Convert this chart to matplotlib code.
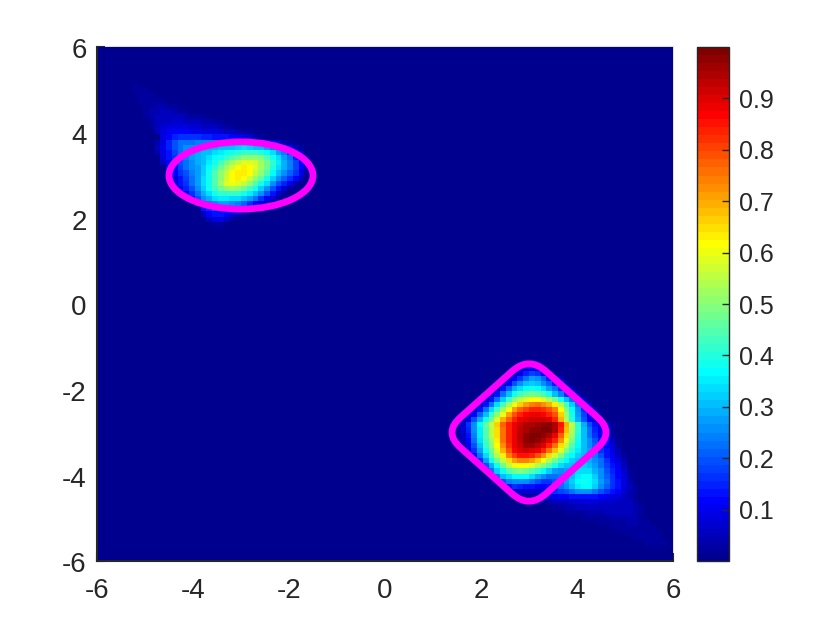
import numpy as np
import matplotlib
matplotlib.use('Agg')
import matplotlib.pyplot as plt
from matplotlib.colors import LinearSegmentedColormap
from matplotlib.patches import Ellipse, FancyBboxPatch
from matplotlib.transforms import Affine2D, ScaledTranslation

plt.rcParams['font.family'] = ['Liberation Sans', 'DejaVu Sans']
plt.rcParams['axes.unicode_minus'] = False

n_cells = 100
x_ticks = [-6, -4, -2, 0, 2, 4, 6]
y_ticks = [-6, -4, -2, 0, 2, 4, 6]
cbar_ticks = [0.1, 0.2, 0.3, 0.4, 0.5, 0.6, 0.7, 0.8, 0.9]

# (row from top, first column, values in hundredths)
upper_blob = [
    (7, 6, [2]),
    (8, 6, [2, 2, 2, 1]),
    (9, 6, [1, 3, 3, 2, 1]),
    (10, 7, [2, 3, 3, 3, 2, 1]),
    (11, 7, [1, 3, 3, 4, 4, 3, 2, 1]),
    (12, 8, [2, 4, 4, 5, 5, 4, 3, 2, 1]),
    (13, 8, [2, 4, 5, 5, 6, 5, 5, 4, 3, 2, 2, 1]),
    (14, 9, [3, 5, 6, 6, 7, 7, 6, 6, 5, 4, 4, 3, 2, 1]),
    (15, 9, [3, 5, 7, 8, 8, 8, 8, 7, 7, 6, 5, 5, 4, 3, 2, 1]),
    (16, 10, [5, 8, 10, 11, 11, 11, 10, 10, 9, 8, 8, 7, 6, 5, 4, 3, 2, 1]),
    (17, 11, [8, 11, 15, 17, 17, 17, 16, 15, 15, 14, 13, 13, 12, 10, 9, 7, 4, 2]),
    (18, 10, [4, 9, 15, 19, 22, 23, 23, 24, 24, 24, 24, 24, 24, 24, 22, 21, 20, 18, 16, 13, 10, 7, 4, 2]),
    (19, 10, [5, 10, 15, 20, 23, 25, 26, 27, 28, 29, 29, 30, 31, 31, 32, 33, 32, 31, 30, 28, 24, 20, 15, 10, 5, 2]),
    (20, 10, [4, 9, 14, 18, 22, 25, 27, 29, 30, 31, 33, 35, 36, 38, 40, 42, 42, 41, 40, 37, 33, 28, 24, 18, 11, 5]),
    (21, 11, [8, 13, 16, 20, 24, 27, 29, 31, 33, 36, 39, 42, 45, 47, 50, 51, 51, 49, 45, 39, 34, 28, 22, 15, 9, 3]),
    (22, 11, [6, 11, 15, 19, 23, 26, 29, 31, 35, 39, 43, 47, 52, 55, 58, 59, 57, 53, 48, 41, 35, 29, 24, 18, 11, 5]),
    (23, 12, [9, 13, 18, 22, 25, 28, 32, 37, 42, 47, 52, 57, 61, 63, 62, 58, 53, 47, 40, 34, 29, 24, 18, 11, 5]),
    (24, 12, [7, 11, 16, 20, 24, 28, 32, 38, 44, 50, 56, 61, 64, 64, 61, 56, 50, 44, 37, 31, 26, 21, 16, 9, 3]),
    (25, 12, [5, 9, 14, 18, 23, 28, 33, 39, 45, 51, 57, 62, 64, 62, 57, 51, 46, 39, 32, 26, 21, 17, 11, 5]),
    (26, 13, [8, 13, 17, 22, 27, 33, 39, 45, 52, 58, 60, 59, 55, 51, 45, 39, 33, 26, 20, 15, 10, 4]),
    (27, 14, [10, 15, 20, 26, 32, 38, 43, 48, 51, 52, 50, 47, 43, 38, 32, 25, 19, 13, 7, 3]),
    (28, 15, [11, 17, 23, 29, 34, 38, 41, 42, 42, 41, 38, 35, 30, 25, 19, 13, 7, 3]),
    (29, 16, [13, 19, 25, 29, 33, 35, 35, 34, 33, 30, 27, 22, 17, 12, 7, 3]),
    (30, 17, [14, 20, 24, 26, 27, 27, 26, 24, 21, 17, 12, 8, 4]),
    (31, 18, [14, 17, 19, 19, 18, 16, 13, 10, 6, 3]),
    (32, 18, [6, 11, 13, 13, 11, 8, 5, 2]),
    (33, 19, [6, 9, 9, 6, 3]),
    (34, 20, [3, 3]),
]

lower_blob = [
    (61, 75, [5, 5]),
    (62, 73, [4, 8, 11, 9, 5]),
    (63, 72, [4, 10, 15, 18, 16, 11, 6]),
    (64, 71, [5, 11, 17, 23, 27, 25, 21, 15, 9, 5]),
    (65, 70, [6, 12, 19, 26, 30, 32, 30, 26, 21, 15, 10, 5]),
    (66, 69, [6, 13, 21, 29, 34, 37, 38, 37, 33, 28, 22, 16, 10, 5]),
    (67, 68, [7, 14, 23, 31, 38, 43, 46, 48, 46, 43, 38, 31, 24, 17, 11, 5]),
    (68, 67, [7, 14, 23, 32, 41, 49, 55, 59, 61, 61, 58, 54, 47, 39, 30, 22, 14, 7]),
    (69, 66, [7, 14, 23, 33, 43, 52, 60, 67, 71, 74, 75, 73, 70, 64, 54, 43, 32, 22, 14, 7]),
    (70, 65, [6, 13, 22, 33, 43, 52, 62, 71, 77, 81, 83, 83, 82, 79, 74, 62, 49, 37, 26, 17, 10, 5]),
    (71, 64, [5, 12, 21, 31, 41, 50, 60, 71, 79, 84, 87, 88, 88, 87, 84, 79, 66, 52, 39, 28, 18, 11, 6, 2]),
    (72, 63, [4, 10, 19, 29, 39, 48, 58, 69, 78, 84, 88, 90, 91, 91, 91, 90, 84, 69, 54, 40, 29, 19, 12, 7, 3, 1]),
    (73, 63, [7, 16, 26, 36, 46, 56, 66, 77, 84, 89, 92, 94, 95, 96, 97, 97, 94, 85, 70, 55, 41, 29, 20, 13, 8, 5, 2]),
    (74, 62, [3, 7, 15, 25, 35, 45, 55, 65, 76, 84, 89, 93, 95, 97, 98, 99, 99, 95, 83, 68, 54, 41, 30, 22, 15, 10, 6, 3]),
    (75, 62, [2, 6, 13, 24, 35, 45, 55, 65, 76, 83, 88, 93, 97, 99, 100, 98, 94, 89, 78, 65, 52, 40, 30, 23, 17, 12, 8, 4, 1]),
    (76, 62, [2, 5, 12, 22, 33, 43, 53, 64, 75, 83, 88, 93, 98, 99, 97, 94, 90, 83, 72, 60, 49, 39, 31, 25, 19, 14, 10, 6, 2]),
    (77, 63, [3, 10, 20, 30, 41, 51, 62, 73, 82, 88, 92, 96, 96, 93, 90, 84, 76, 65, 55, 45, 37, 31, 26, 21, 16, 12, 8, 3]),
    (78, 64, [8, 17, 27, 38, 48, 59, 70, 79, 86, 90, 92, 90, 88, 83, 76, 68, 58, 49, 41, 35, 31, 27, 22, 17, 13, 9, 5]),
    (79, 65, [14, 23, 33, 44, 54, 64, 74, 81, 85, 85, 83, 79, 73, 65, 57, 49, 42, 36, 32, 30, 28, 24, 19, 14, 10, 6, 2]),
    (80, 66, [17, 28, 38, 47, 56, 65, 71, 74, 74, 71, 67, 61, 54, 48, 41, 36, 32, 31, 30, 29, 26, 22, 17, 12, 8, 4]),
    (81, 67, [20, 29, 39, 48, 55, 60, 62, 61, 58, 54, 49, 44, 38, 33, 30, 30, 31, 32, 31, 27, 23, 18, 14, 10, 5]),
    (82, 68, [23, 32, 39, 45, 48, 49, 48, 45, 41, 37, 32, 28, 26, 27, 30, 33, 34, 33, 29, 25, 20, 15, 11, 7, 2]),
    (83, 69, [23, 30, 34, 37, 37, 36, 33, 29, 25, 22, 22, 24, 27, 31, 35, 37, 36, 32, 26, 21, 16, 12, 8, 3]),
    (84, 70, [19, 24, 26, 26, 25, 23, 20, 17, 17, 20, 23, 27, 32, 36, 38, 37, 33, 27, 22, 17, 13, 9, 4]),
    (85, 71, [13, 16, 15, 14, 13, 12, 12, 14, 18, 22, 26, 31, 35, 37, 36, 32, 26, 21, 17, 13, 9, 5, 2]),
    (86, 72, [7, 7, 7, 7, 7, 9, 12, 16, 18, 20, 22, 25, 26, 25, 23, 20, 17, 14, 11, 7, 4, 2]),
    (87, 73, [3, 3, 3, 4, 6, 8, 10, 11, 12, 13, 14, 14, 14, 13, 11, 10, 9, 8, 6, 4, 2]),
    (88, 76, [2, 3, 4, 5, 6, 6, 7, 7, 8, 8, 8, 7, 7, 7, 6, 6, 5, 3, 1]),
    (89, 79, [2, 3, 4, 4, 5, 5, 5, 6, 6, 6, 6, 6, 5, 5, 4, 2]),
    (90, 81, [2, 3, 3, 3, 4, 4, 4, 5, 5, 5, 5, 5, 4, 2]),
    (91, 84, [2, 2, 3, 3, 3, 4, 4, 4, 4, 4, 3, 1]),
    (92, 86, [1, 2, 2, 3, 3, 3, 4, 4, 3, 2]),
    (93, 88, [1, 2, 2, 3, 3, 3, 3, 3, 2, 1]),
    (94, 90, [1, 2, 2, 3, 3, 3, 3, 2]),
    (95, 92, [1, 2, 2, 3, 3, 3, 1]),
    (96, 95, [2, 2, 2, 2]),
]

# the two magenta curves
ellipse_center = (-3, 3)
ellipse_width = 3.0
ellipse_height = 1.57
diamond_center = (3, -3)
diamond_half_side = 1.26
diamond_corner = 0.5

z = np.zeros((n_cells, n_cells))
for row, start, vals in upper_blob + lower_blob:
    z[row, start:start + len(vals)] = np.array(vals) / 100

# MATLAB jet, 64 levels
jet_stops = [(0, (0, 0, 0.5625)), (7 / 63, (0, 0, 1)), (23 / 63, (0, 1, 1)),
             (39 / 63, (1, 1, 0)), (55 / 63, (1, 0, 0)), (1, (0.5, 0, 0))]
cmap = LinearSegmentedColormap.from_list('matlab_jet', jet_stops, N=64)

fig = plt.figure(figsize=(8.4, 6.3), dpi=100)
ax = fig.add_axes([97 / 840, 1 - 561 / 630, 576 / 840, 514 / 630])
cax = fig.add_axes([697 / 840, 1 - 561 / 630, 32 / 840, 514 / 630])

edges_x = np.linspace(-6, 6, n_cells + 1)
edges_y = np.linspace(6, -6, n_cells + 1)
mesh = ax.pcolormesh(edges_x, edges_y, z, cmap=cmap, vmin=0, vmax=1, zorder=1)

ax.add_patch(Ellipse(ellipse_center, ellipse_width, ellipse_height, fill=False,
                     edgecolor='#ff00ff', linewidth=4.9, zorder=3))

# rounded square turned by 45 degrees
inner = diamond_half_side - diamond_corner
diamond = FancyBboxPatch((-inner, -inner), 2 * inner, 2 * inner,
                         boxstyle=f'round,pad={diamond_corner},rounding_size={diamond_corner}',
                         fill=False, edgecolor='#ff00ff', linewidth=4.9, zorder=3,
                         transform=Affine2D().rotate_deg(45).translate(*diamond_center) + ax.transData)
ax.add_patch(diamond)

ax.set_xlim(-6, 6)
ax.set_ylim(-6, 6)
ax.set_xticks(x_ticks)
ax.set_yticks(y_ticks)
ax.set_axisbelow(True)
ax.tick_params(direction='in', length=6, width=1.5, labelsize=20, colors='#262626')
ax.tick_params(axis='x', pad=12)
ax.tick_params(axis='y', pad=7.5)
for side in ['left', 'bottom']:
    ax.spines[side].set_color('#262626')
    ax.spines[side].set_linewidth(1.5)
for side in ['top', 'right']:
    ax.spines[side].set_color('#e0e0e0')
    ax.spines[side].set_linewidth(1.5)
    ax.spines[side].set_zorder(0.4)

# y labels sit a little lower in the original
for lab in ax.get_yticklabels():
    lab.set_transform(lab.get_transform() + ScaledTranslation(0, -1 / 72, fig.dpi_scale_trans))

cb = fig.colorbar(mesh, cax=cax)
cb.set_ticks(cbar_ticks)
cb.ax.tick_params(direction='in', length=5, width=1, labelsize=18, pad=7.5,
                  colors='#262626')
cb.outline.set_edgecolor('#262626')
cb.outline.set_linewidth(1)

fig.savefig('out.png', dpi=100)
